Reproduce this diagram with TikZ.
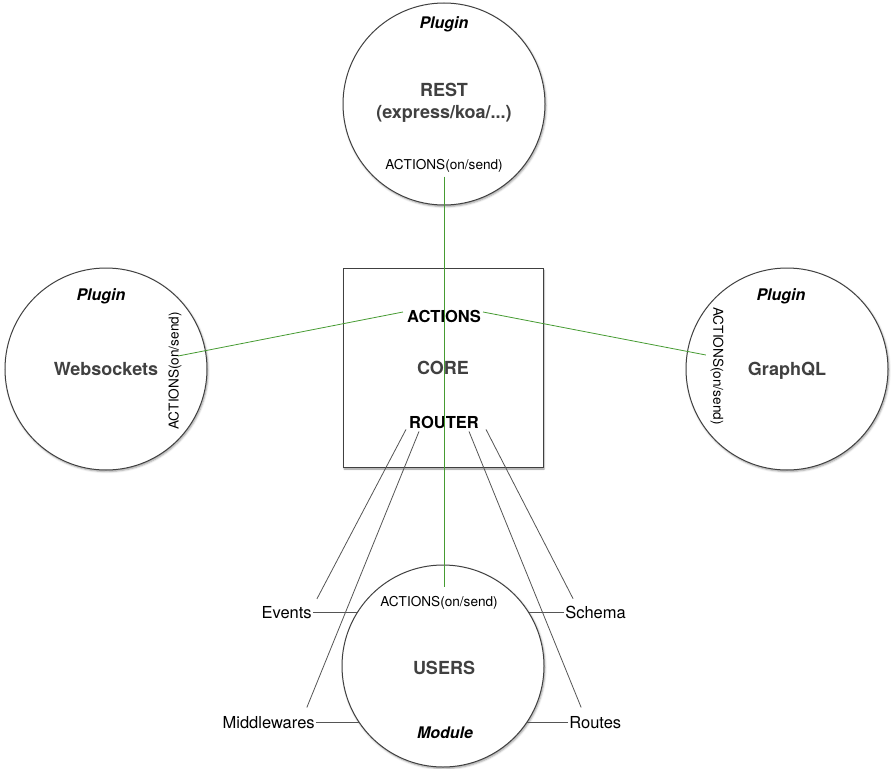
\documentclass[tikz,border=0pt]{standalone}
\usepackage{fontspec}
\setmainfont{TeX Gyre Heros}
\usetikzlibrary{positioning,shadows.blur}
\definecolor{titlegrey}{RGB}{64,64,64}
\definecolor{linkgreen}{RGB}{70,155,50}
\definecolor{wiregrey}{RGB}{85,85,85}
\tikzset{
  unit/.style={circle, draw=black!75, line width=1pt, fill=white,
    minimum size=202pt, inner sep=0pt,
    blur shadow={shadow xshift=1pt, shadow yshift=-1.5pt, shadow blur radius=2pt}},
  corebox/.style={rectangle, draw=black!75, line width=1pt, fill=white,
    minimum width=200pt, minimum height=199pt, inner sep=0pt,
    blur shadow={shadow xshift=1pt, shadow yshift=-1.5pt, shadow blur radius=1.5pt}},
  title/.style={font=\fontsize{18}{22}\selectfont\bfseries, text=titlegrey, inner sep=1pt},
  plugin/.style={font=\fontsize{16}{18}\selectfont\bfseries\itshape, inner sep=1pt},
  act/.style={font=\fontsize{13.6}{16}\selectfont, inner sep=1pt},
  corelbl/.style={font=\fontsize{16.5}{18}\selectfont\bfseries, inner sep=1pt},
  sidelbl/.style={font=\fontsize{16.5}{18}\selectfont, inner sep=1pt},
  link/.style={draw=linkgreen, line width=0.8pt},
  wire/.style={draw=wiregrey, line width=0.8pt}
}
\begin{document}
\begin{tikzpicture}[x=1pt,y=-1pt]
  \useasboundingbox (0,0) rectangle (891,768);
  % plugins, core and module
  \node[unit] (rest) at (444,104) {};
  \node[unit] (ws) at (106,369) {};
  \node[unit] (gql) at (787,369) {};
  \node[unit] (users) at (443,666) {};
  \node[corebox, title] (core) at (443,368) {CORE};

  \node[plugin] (restplug) at (444,24) {Plugin};
  \node[title, align=center] (restname) at (444,103) {REST\\(express/koa/...)};
  \node[act] (restact) at (444,166) {ACTIONS(on/send)};

  \node[plugin] (wsplug) at (101,296) {Plugin};
  \node[title] (wsname) at (106,369) {Websockets};
  \node[act, rotate=90] (wsact) at (175,371) {ACTIONS(on/send)};

  \node[plugin] (gqlplug) at (781,296) {Plugin};
  \node[title] (gqlname) at (787,371) {GraphQL};
  \node[act, rotate=-90] (gqlact) at (717,366) {ACTIONS(on/send)};

  \node[corelbl] (coreact) at (444,316) {ACTIONS};
  \node[corelbl] (router) at (444,422) {ROUTER};

  \node[act] (usract) at (439,603) {ACTIONS(on/send)};
  \node[title] (usrname) at (444,668) {USERS};
  \node[plugin] (usrmod) at (445,733) {Module};

  \node[sidelbl, left=44pt of users.148] (events) {Events};
  \node[sidelbl, left=43pt of users.214] (midw) {Middlewares};
  \node[sidelbl, right=35pt of users.32] (schema) {Schema};
  \node[sidelbl, right=41pt of users.326] (routes) {Routes};

  % actions
  \draw[link, shorten <=3pt, shorten >=8pt] (restact.south) -- (restact.south |- usract.north);
  \draw[link] ([xshift=-4.6pt,yshift=15pt]wsact.south) -- ([xshift=-3pt,yshift=4pt]coreact.west);
  \draw[link] ([xshift=1pt,yshift=4pt]coreact.east) -- ([xshift=-3.4pt,yshift=11pt]gqlact.south);

  % router
  \begin{scope}[wire]
    \draw ([xshift=-2pt]router.south west) -- ([xshift=4pt,yshift=6pt]events.north east);
    \draw ([xshift=11pt,yshift=-2pt]router.south west) -- ([xshift=-9pt,yshift=8pt]midw.north east);
    \draw ([xshift=-11pt,yshift=-2pt]router.south east) -- ([xshift=13pt,yshift=8pt]routes.north west);
    \draw ([xshift=6pt]router.south east) -- ([xshift=9pt,yshift=6pt]schema.north west);
    \draw (events.east) -- (users.148);
    \draw (midw.east) -- (users.214);
    \draw (schema.west) -- (users.32);
    \draw (routes.west) -- (users.326);
  \end{scope}
\end{tikzpicture}
\end{document}
